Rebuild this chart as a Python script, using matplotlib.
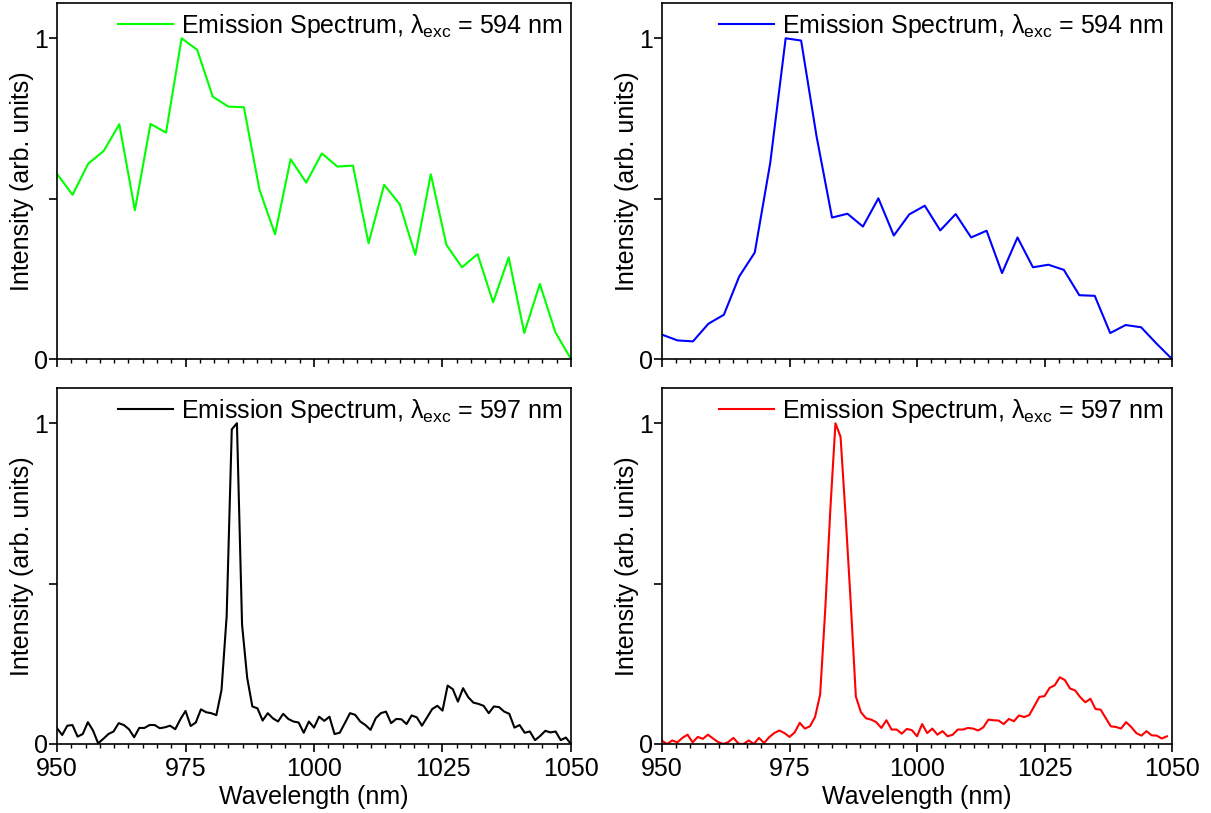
import matplotlib
matplotlib.use('Agg')
import matplotlib.pyplot as plt
import numpy as np
from matplotlib.ticker import AutoMinorLocator

plt.rcParams['font.family'] = ['Liberation Sans', 'DejaVu Sans']
plt.rcParams['mathtext.fontset'] = 'custom'
plt.rcParams['mathtext.rm'] = 'Liberation Sans'
plt.rcParams['font.size'] = 18

# coarse scans (top row), 34 points
wl_594 = [950.0, 953.03, 956.06, 959.09, 962.12, 965.15, 968.18, 971.21, 974.24, 977.27,
          980.30, 983.33, 986.36, 989.39, 992.42, 995.45, 998.48, 1001.52, 1004.55, 1007.58,
          1010.61, 1013.64, 1016.67, 1019.70, 1022.73, 1025.76, 1028.79, 1031.82, 1034.85,
          1037.88, 1040.91, 1043.94, 1046.97, 1050.0]

green_594 = [0.577, 0.512, 0.609, 0.649, 0.732, 0.464, 0.733, 0.706, 1.0, 0.964,
             0.818, 0.787, 0.785, 0.528, 0.389, 0.623, 0.550, 0.641, 0.600, 0.603,
             0.361, 0.543, 0.483, 0.325, 0.576, 0.356, 0.286, 0.327, 0.177, 0.317,
             0.081, 0.234, 0.083, 0.0]

blue_594 = [0.076, 0.058, 0.055, 0.110, 0.138, 0.258, 0.332, 0.611, 1.0, 0.993,
            0.694, 0.441, 0.453, 0.413, 0.501, 0.385, 0.451, 0.478, 0.401, 0.452,
            0.379, 0.400, 0.268, 0.379, 0.286, 0.294, 0.278, 0.199, 0.197, 0.081,
            0.106, 0.099, 0.048, 0.0]

# fine scans (bottom row), 1 nm steps
wl_black = np.arange(950, 1051)
black_597 = [0.049, 0.028, 0.057, 0.059, 0.023, 0.031, 0.068, 0.042, 0.002, 0.016,
             0.031, 0.039, 0.065, 0.059, 0.046, 0.021, 0.050, 0.050, 0.059, 0.059,
             0.049, 0.052, 0.057, 0.046, 0.077, 0.103, 0.056, 0.067, 0.108, 0.099,
             0.096, 0.090, 0.168, 0.398, 0.981, 1.0, 0.372, 0.206, 0.117, 0.111,
             0.073, 0.096, 0.080, 0.070, 0.094, 0.078, 0.070, 0.067, 0.035, 0.070,
             0.051, 0.085, 0.072, 0.085, 0.031, 0.035, 0.065, 0.096, 0.091, 0.070,
             0.059, 0.044, 0.080, 0.096, 0.101, 0.065, 0.078, 0.077, 0.062, 0.089,
             0.083, 0.057, 0.083, 0.109, 0.119, 0.104, 0.182, 0.171, 0.132, 0.174,
             0.146, 0.129, 0.125, 0.119, 0.096, 0.117, 0.115, 0.101, 0.094, 0.051,
             0.059, 0.035, 0.039, 0.012, 0.025, 0.041, 0.036, 0.039, 0.012, 0.020,
             0.0]

wl_red = np.arange(950, 1050)
red_597 = [0.010, 0.000, 0.011, 0.005, 0.019, 0.029, 0.005, 0.022, 0.016, 0.029,
           0.017, 0.006, 0.000, 0.006, 0.019, 0.001, 0.000, 0.011, 0.000, 0.019,
           0.003, 0.021, 0.034, 0.042, 0.034, 0.022, 0.036, 0.066, 0.048, 0.055,
           0.084, 0.154, 0.419, 0.731, 1.0, 0.958, 0.710, 0.440, 0.148, 0.099,
           0.080, 0.076, 0.068, 0.050, 0.074, 0.045, 0.045, 0.032, 0.047, 0.043,
           0.024, 0.062, 0.034, 0.048, 0.029, 0.040, 0.024, 0.029, 0.045, 0.045,
           0.050, 0.048, 0.042, 0.052, 0.076, 0.074, 0.073, 0.062, 0.078, 0.071,
           0.089, 0.084, 0.090, 0.118, 0.147, 0.149, 0.175, 0.183, 0.208, 0.199,
           0.173, 0.167, 0.146, 0.130, 0.141, 0.109, 0.107, 0.081, 0.055, 0.053,
           0.048, 0.068, 0.053, 0.034, 0.026, 0.040, 0.027, 0.026, 0.017, 0.024]

lab_594 = r'Emission Spectrum, λ$_{\mathrm{exc}}$ = 594 nm'
lab_597 = r'Emission Spectrum, λ$_{\mathrm{exc}}$ = 597 nm'

fig = plt.figure(figsize=(12.11, 8.13), dpi=100)

panels = [
    ([0.0471, 0.5584, 0.4244, 0.4379], wl_594, green_594, '#00ff00', lab_594, False),
    ([0.5467, 0.5584, 0.4211, 0.4379], wl_594, blue_594, '#0000ff', lab_594, False),
    ([0.0471, 0.0849, 0.4244, 0.4379], wl_black, black_597, 'black', lab_597, True),
    ([0.5467, 0.0849, 0.4211, 0.4379], wl_red, red_597, '#ff0000', lab_597, True),
]

for pos, x, y, col, lab, bottom in panels:
    ax = fig.add_axes(pos)
    ax.plot(x, y, color=col, lw=1.5, label=lab)
    ax.set_xlim(950, 1050)
    ax.set_ylim(0, 1.11)
    ax.set_xticks([950, 975, 1000, 1025, 1050])
    ax.xaxis.set_minor_locator(AutoMinorLocator(9))
    ax.set_yticks([0, 0.5, 1])
    ax.set_yticklabels(['0', '', '1'])
    ax.tick_params(direction='out', length=5.5, width=1.2, labelsize=18)
    ax.tick_params(axis='x', pad=4)
    ax.tick_params(axis='y', pad=1)
    ax.tick_params(which='minor', direction='out', length=2.8, width=1.0)
    for s in ax.spines.values():
        s.set_linewidth(1.2)
    ax.set_ylabel('Intensity (arb. units)', fontsize=18, labelpad=0)
    if bottom:
        ax.set_xlabel('Wavelength (nm)', fontsize=18, labelpad=3)
    else:
        ax.tick_params(labelbottom=False)
    ax.legend(loc='upper right', frameon=False, fontsize=18, handlelength=2.2,
              handletextpad=0.3, borderaxespad=0.25, borderpad=0.1)

plt.savefig('out.png', dpi=100)
